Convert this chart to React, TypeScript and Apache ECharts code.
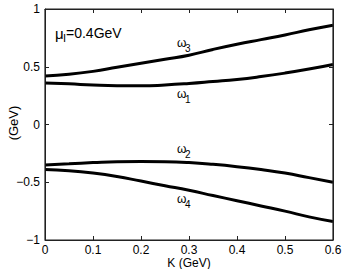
import React, { useEffect, useRef } from "react";
import * as echarts from "echarts";

const kValues = [0, 0.05, 0.1, 0.15, 0.2, 0.25, 0.3, 0.35, 0.4, 0.45, 0.5, 0.55, 0.6];
const omega3 = [0.42, 0.435, 0.46, 0.495, 0.53, 0.565, 0.6, 0.65, 0.695, 0.735, 0.775, 0.82, 0.86];
const omega1 = [0.36, 0.352, 0.342, 0.336, 0.335, 0.342, 0.355, 0.372, 0.39, 0.415, 0.445, 0.48, 0.52];
const omega2 = [-0.35, -0.34, -0.33, -0.322, -0.32, -0.322, -0.33, -0.345, -0.365, -0.39, -0.42, -0.46, -0.5];
const omega4 = [-0.39, -0.4, -0.42, -0.45, -0.49, -0.53, -0.57, -0.615, -0.66, -0.705, -0.75, -0.8, -0.84];

const xTicks = [0, 0.1, 0.2, 0.3, 0.4, 0.5, 0.6];
const yTicks = [-1, -0.5, 0, 0.5, 1];
const seriesNames = ["ω1", "ω2", "ω3", "ω4"];
const xName = "K (GeV)";
const yName = "(GeV)";

const FONT = "Liberation Sans, Arial, Helvetica, sans-serif";
const AXIS_COLOR = "#222";

const GRID = { left: 45, right: 13, top: 9, bottom: 29 };
const W = 346;
const H = 269;

function pair(vals: number[]) {
  return kValues.map((k, i) => [k, vals[i]]);
}

function omegaLabel(x: number, y: number, sub: string) {
  return [
    {
      type: "text",
      x,
      y,
      style: { text: "ω", fontSize: 12, fontFamily: FONT, fill: "#000", textVerticalAlign: "middle" },
    },
    {
      type: "text",
      x: x + 8,
      y: y + 5,
      style: { text: sub, fontSize: 10, fontFamily: FONT, fill: "#000", textVerticalAlign: "middle" },
    },
  ];
}

export default function App() {
  const ref = useRef<HTMLDivElement>(null);
  useEffect(() => {
    if (!ref.current) return;
    const chart = echarts.init(ref.current, null, { renderer: "svg" });
    const fmtY = (v: number) => (v < 0 ? "\u2212" + String(-v) : String(v));
    const axisCommon = {
      axisLine: { show: true, onZero: false, lineStyle: { color: AXIS_COLOR, width: 1 } },
      axisTick: { show: true, inside: true, length: 4, lineStyle: { color: AXIS_COLOR, width: 1 } },
      splitLine: { show: false },
    };
    const data = [omega1, omega2, omega3, omega4];
    const plotW = W - GRID.left - GRID.right;
    const plotH = H - GRID.top - GRID.bottom;
    chart.setOption({
      animation: false,
      backgroundColor: "#fff",
      grid: { ...GRID, containLabel: false, outerBoundsMode: "none" },
      xAxis: [
        {
          type: "value",
          min: xTicks[0],
          max: xTicks[xTicks.length - 1],
          interval: 0.1,
          axisLabel: { fontSize: 12, fontFamily: FONT, color: "#000", margin: 4, formatter: (v: number) => String(v) },
          ...axisCommon,
        },
        {
          type: "value",
          position: "top",
          min: xTicks[0],
          max: xTicks[xTicks.length - 1],
          interval: 0.1,
          axisLabel: { show: false },
          ...axisCommon,
        },
      ],
      yAxis: [
        {
          type: "value",
          min: yTicks[0],
          max: yTicks[yTicks.length - 1],
          interval: 0.5,
          axisLabel: { fontSize: 12, fontFamily: FONT, color: "#000", margin: 5, formatter: fmtY },
          ...axisCommon,
        },
        {
          type: "value",
          position: "right",
          min: yTicks[0],
          max: yTicks[yTicks.length - 1],
          interval: 0.5,
          axisLabel: { show: false },
          ...axisCommon,
        },
      ],
      series: [
        ...data.map((d, i) => ({
          name: seriesNames[i],
          type: "line",
          data: pair(d),
          smooth: true,
          showSymbol: false,
          lineStyle: { color: "#000", width: 3 },
          xAxisIndex: 0,
          yAxisIndex: 0,
        })),
        { type: "line", data: [], xAxisIndex: 1, yAxisIndex: 1, showSymbol: false },
      ],
      graphic: [
        { type: "line", silent: true, z: 10, shape: { x1: GRID.left, y1: GRID.top, x2: GRID.left + plotW, y2: GRID.top }, style: { stroke: AXIS_COLOR, lineWidth: 1.2 } },
        { type: "line", silent: true, z: 10, shape: { x1: GRID.left, y1: GRID.top + plotH, x2: GRID.left + plotW, y2: GRID.top + plotH }, style: { stroke: AXIS_COLOR, lineWidth: 1.2 } },
        { type: "line", silent: true, z: 10, shape: { x1: GRID.left, y1: GRID.top, x2: GRID.left, y2: GRID.top + plotH }, style: { stroke: AXIS_COLOR, lineWidth: 1.2 } },
        { type: "line", silent: true, z: 10, shape: { x1: GRID.left + plotW, y1: GRID.top, x2: GRID.left + plotW, y2: GRID.top + plotH }, style: { stroke: AXIS_COLOR, lineWidth: 1.2 } },
        { type: "text", x: 189, y: 263, style: { text: xName, fontSize: 12, fontFamily: FONT, fill: "#000", textAlign: "center", textVerticalAlign: "middle" } },
        { type: "text", x: 13, y: 123, rotation: Math.PI / 2, style: { text: yName, fontSize: 13, fontFamily: FONT, fill: "#000", textAlign: "center", textVerticalAlign: "middle" } },
        { type: "text", x: 55, y: 33, style: { text: "μ", fontSize: 15, fontFamily: FONT, fill: "#000", textVerticalAlign: "middle" } },
        { type: "text", x: 63, y: 38, style: { text: "I", fontSize: 11, fontFamily: FONT, fill: "#000", textVerticalAlign: "middle" } },
        { type: "text", x: 66, y: 33, style: { text: "=0.4GeV", fontSize: 14, fontFamily: FONT, fill: "#000", textVerticalAlign: "middle" } },
        ...omegaLabel(177, 43, "3"),
        ...omegaLabel(177, 94, "1"),
        ...omegaLabel(177, 149, "2"),
        ...omegaLabel(177, 199, "4"),
      ],
    });
    return () => chart.dispose();
  }, []);
  return <div ref={ref} style={{ position: "fixed", left: 0, top: 0, width: W, height: H }} />;
}
